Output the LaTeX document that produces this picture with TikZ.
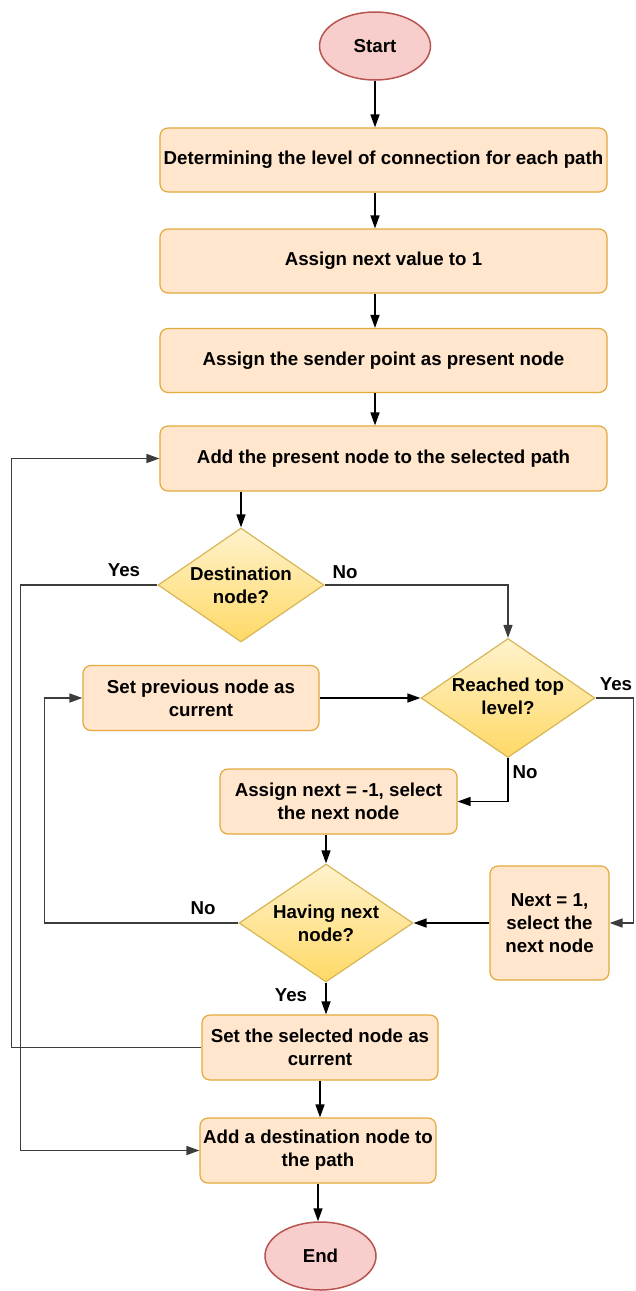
\documentclass[tikz,border=0pt]{standalone}
\usepackage{fontspec}
\setmainfont{Liberation Sans}
\usetikzlibrary{shapes.geometric,arrows.meta}
\definecolor{boxfill}{HTML}{FFE6CC}
\definecolor{boxline}{HTML}{E3A93C}
\definecolor{diafillA}{HTML}{FFF2CC}
\definecolor{diafillB}{HTML}{FFD966}
\definecolor{dialine}{HTML}{D6B656}
\definecolor{ovfill}{HTML}{F8CECC}
\definecolor{ovline}{HTML}{B85450}
\definecolor{loopcol}{HTML}{3C3C3C}
\tikzset{
  box/.style={draw=boxline, fill=boxfill, rounded corners=8pt, line width=1.2pt, align=center, inner sep=0pt},
  dia/.style={diamond, draw=dialine, top color=diafillA, bottom color=diafillB, line width=1.2pt, inner sep=0pt, minimum width=170pt, minimum height=116pt},
  oval/.style={ellipse, draw=ovline, fill=ovfill, line width=1.5pt, inner sep=0pt, minimum width=111pt, minimum height=68pt},
  arr/.style={-{Triangle[length=13pt,width=9pt]}, line width=1.5pt, draw=black},
  lp/.style={arr, draw=loopcol, line width=1.6pt},
  txt/.style={align=center, inner sep=0pt},
}
\begin{document}
\begin{tikzpicture}[x=1pt,y=-1pt,font=\fontsize{18.7}{23}\selectfont\bfseries]
\useasboundingbox (0,0) rectangle (635,1291);
\node[oval] (start) at (375,46) {Start};
\node[box, minimum width=447pt, minimum height=64pt] (b1) at (383.5,160) {Determining the level of connection for each path};
\node[box, minimum width=447pt, minimum height=64pt] (b2) at (383.5,261) {Assign next value to 1};
\node[box, minimum width=447pt, minimum height=64pt] (b3) at (383.5,360.5) {Assign the sender point as present node};
\node[box, minimum width=447pt, minimum height=65pt] (b4) at (383.5,458.5) {Add the present node to the selected path};
\node[dia, minimum width=166pt, minimum height=114pt] (d1) at (241,585) {};
\node[txt] (d1t) at (d1) {Destination\\node?};
\node[dia, minimum width=174pt, minimum height=119pt] (d2) at (508,698) {};
\node[txt] (d2t) at (508,696) {Reached top\\level?};
\node[box, minimum width=236pt, minimum height=65pt] (sp) at (201,698) {Set previous node as\\current};
\node[box, minimum width=237pt, minimum height=65pt] (an) at (338.5,801.5) {Assign next = -1, select\\the next node};
\node[dia, minimum width=174pt, minimum height=118pt] (d3) at (326,923) {};
\node[txt] (d3t) at (d3) {Having next\\node?};
\node[box, minimum width=119pt, minimum height=114pt] (n1) at (549.5,923) {Next = 1,\\select the\\next node};
\node[box, minimum width=236pt, minimum height=65pt] (ss) at (320,1047.5) {Set the selected node as\\current};
\node[box, minimum width=236pt, minimum height=65pt] (ad) at (318,1150.5) {Add a destination node to\\the path};
\node[oval] (end) at (320.5,1256) {End};
% labels
\node[txt] (l1) at (124,570) {Yes};
\node[txt] (l2) at (345,572) {No};
\node[txt] (l3) at (616,684) {Yes};
\node[txt] (l4) at (525,772) {No};
\node[txt] (l5) at (203,908) {No};
\node[txt] (l6) at (291,995) {Yes};
% connectors
\draw[arr] (start.south) -- (start.south |- b1.north);
\draw[arr] (start |- b1.south) -- (start |- b2.north);
\draw[arr] (start |- b2.south) -- (start |- b3.north);
\draw[arr] (start |- b3.south) -- (start |- b4.north);
\draw[arr] (d1 |- b4.south) -- (d1.north);
\draw[lp] (d1.west) -- ++(-137,0) |- (ad.west);
\draw[lp] (d1.east) -| (d2.north);
\draw[lp] (d2.east) -- ++(38,0) |- (n1.east);
\draw[arr] (sp.east) -- (d2.west);
\draw[arr] (d2.south) |- (an.east);
\draw[arr] (d3 |- an.south) -- (d3.north);
\draw[arr] (n1.west) -- (d3.east);
\draw[lp] (d3.west) -- ++(-194,0) |- (sp.west);
\draw[arr] (d3.south) -- (d3 |- ss.north);
\draw[lp] (ss.west) -- ++(-190,0) |- (b4.west);
\draw[arr] (ss.south) -- (ss.south |- ad.north);
\draw[arr] (ad.south) -- (ad.south |- end.north);
\end{tikzpicture}
\end{document}
